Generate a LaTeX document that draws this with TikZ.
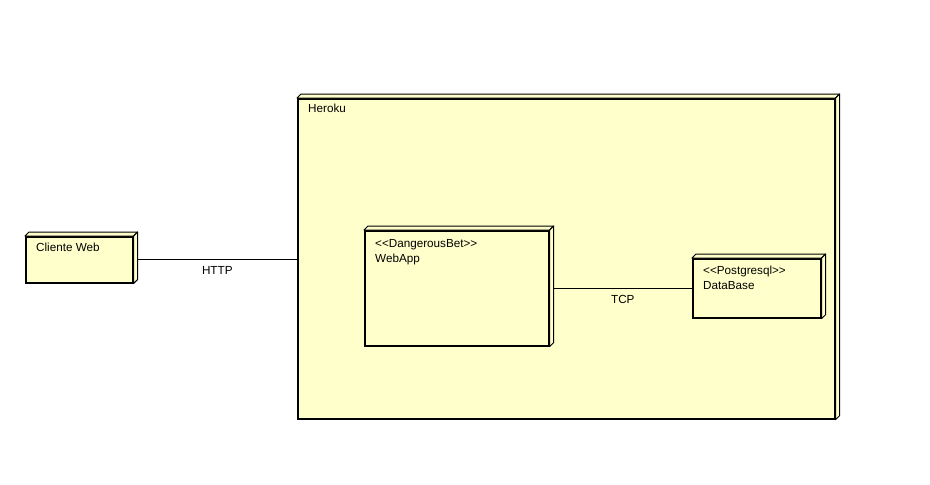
\documentclass[tikz,border=0pt]{standalone}
\usepackage{fontspec}
\setmainfont{Liberation Sans}
\definecolor{nodefill}{RGB}{255,255,204}
\newcommand\stereo[1]{<\kern0pt<#1>\kern0pt>}

\begin{document}
\begin{tikzpicture}[x=1pt,y=-1pt,
      box/.style={draw,fill=nodefill,line width=1.6pt,anchor=north west,inner sep=0pt},
      face/.style={draw,fill=nodefill,line width=1pt,line join=round},
      lbl/.style={anchor=north west,inner sep=0pt,align=left,xshift=11pt,font=\fontsize{11.7}{15}\selectfont},
      conn/.style={line width=.9pt},
      txt/.style={font=\fontsize{11.7}{14}\selectfont}
      ]
      \useasboundingbox (0,0) rectangle (930,485);

      % execution environment
      \node[box,minimum width=537pt,minimum height=320pt,
        label={[lbl,yshift=-6pt]north west:Heroku}] (heroku) at (297,98) {};

      % deployment nodes
      \node[box,minimum width=107pt,minimum height=46pt,
        label={[lbl,yshift=-7pt]north west:Cliente Web}] (web) at (25,236) {};
      \node[box,minimum width=184pt,minimum height=115pt,
        label={[lbl,yshift=-9pt]north west:{\stereo{DangerousBet}\\WebApp}}] (app) at (364,230) {};
      \node[box,minimum width=128pt,minimum height=59pt,
        label={[lbl,yshift=-8pt]north west:{\stereo{Postgresql}\\DataBase}}] (db) at (692,258) {};

      % 3d faces
      \foreach \n in {heroku,web,app,db}{
        \draw[face] (\n.north west) -- ++(4,-4) -- ([shift={(4,-4)}]\n.north east) -- (\n.north east) -- cycle;
        \draw[face] (\n.north east) -- ++(4,-4) -- ([shift={(4,-4)}]\n.south east) -- (\n.south east) -- cycle;
      }

      % links
      \draw[conn] ([xshift=4pt]web.east) -- (web.east -| heroku.west) node[txt,midway,below=3pt] {HTTP};
      \draw[conn] ([xshift=4pt]app.east) -- (db.west) node[txt,midway,below=3pt] {TCP};
\end{tikzpicture}
\end{document}
